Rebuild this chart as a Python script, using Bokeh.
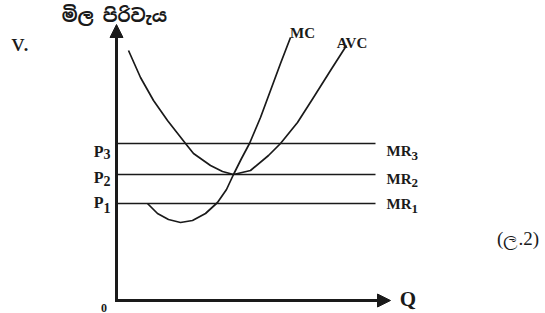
from bokeh.plotting import figure
from bokeh.models import Range1d, Arrow, NormalHead
from bokeh.core.properties import value
from bokeh.embed import file_html
from bokeh.resources import INLINE

# ---- data ----
price_names = ["P", "P", "P"]
price_subs = ["1", "2", "3"]
price_levels = [9.7, 12.6, 15.7]
mr_names = ["MR", "MR", "MR"]
mr_subs = ["1", "2", "3"]
mr_end_q = 25.9

mc_q = [3.1, 4.1, 5.2, 6.4, 7.6, 8.9, 10.1, 11.0, 11.7, 12.5, 13.3, 14.4, 15.4, 16.4, 17.4]
mc_p = [9.7, 8.7, 8.1, 7.8, 8.0, 8.7, 9.8, 11.1, 12.6, 14.2, 15.7, 18.3, 21.0, 23.7, 26.3]

avc_q = [1.2, 2.4, 3.7, 5.1, 6.9, 7.7, 9.4, 10.6, 11.7, 13.4, 15.2, 16.4, 18.1, 19.7, 21.4, 23.0]
avc_p = [25.0, 22.3, 20.0, 18.0, 15.7, 14.7, 13.5, 12.9, 12.6, 13.0, 14.5, 15.7, 17.8, 20.3, 23.0, 25.5]

y_axis_top = 27.6
x_axis_end = 27.4

title_text = "මිල පිරිවැය"
part_text = "v."
mark_text = "(ල.2)"
x_label = "Q"
origin_label = "0"
curve_names = ["MC", "AVC"]

W, H = 545, 313
p = figure(width=W, height=H, output_backend="svg", toolbar_location=None,
           x_range=Range1d(-11.6, 42.9), y_range=Range1d(-1.3, 30.0),
           min_border=0)
p.axis.visible = False
p.grid.visible = False
p.outline_line_color = None
p.background_fill_color = "white"
p.border_fill_color = "white"

serif = value("Liberation Serif")
col = "#1a1a1a"

# MR lines
for lvl in price_levels:
    p.line([0, mr_end_q], [lvl, lvl], line_color=col, line_width=1.7)

# curves
p.line(mc_q, mc_p, line_color=col, line_width=1.7, line_join="round")
p.line(avc_q, avc_p, line_color=col, line_width=1.7, line_join="round")

# axes with arrows
p.add_layout(Arrow(x_start=0, y_start=-0.15, x_end=0, y_end=y_axis_top,
                   line_width=3, line_color=col,
                   end=NormalHead(size=13, fill_color=col, line_color=col, line_width=1)))
p.add_layout(Arrow(x_start=-0.15, y_start=0, x_end=x_axis_end, y_end=0,
                   line_width=3, line_color=col,
                   end=NormalHead(size=13, fill_color=col, line_color=col, line_width=1)))

# price labels
p.text(x=[-1.3] * 3, y=price_levels, text=price_names, text_align="right",
       text_baseline="alphabetic", text_font=serif, text_font_style="bold",
       text_font_size="16px", text_color=col, y_offset=[-1, 3, 8])
p.text(x=[-1.3] * 3, y=price_levels, text=price_subs, text_align="left",
       text_baseline="alphabetic", text_font=serif, text_font_style="bold",
       text_font_size="14px", text_color=col, y_offset=[4, 6, 10])

# MR labels
p.text(x=[mr_end_q + 1.1] * 3, y=price_levels, text=mr_names, text_align="left",
       text_baseline="alphabetic", text_font=serif, text_font_style="bold",
       text_font_size="15px", text_color=col, y_offset=[0, 4, 7])
p.text(x=[mr_end_q + 3.6] * 3, y=price_levels, text=mr_subs, text_align="left",
       text_baseline="alphabetic", text_font=serif, text_font_style="bold",
       text_font_size="13px", text_color=col, y_offset=[5, 8, 12])

# curve labels
p.text(x=[18.6, 23.55], y=[26.8, 25.8], text=curve_names, text_align="center",
       text_baseline="alphabetic", text_font=serif, text_font_style="bold",
       text_font_size="15px", text_color=col)

# other texts
p.text(x=[-0.2], y=[28.5], text=[title_text], text_align="center", text_baseline="middle",
       text_font=value("Noto Sans Sinhala"), text_font_style="bold", text_font_size="18px",
       text_color=col)
p.text(x=[-10.5], y=[25.8], text=[part_text], text_align="left", text_baseline="alphabetic",
       text_font=serif, text_font_size="26px", text_color=col)
p.text(x=[40.15], y=[6.2], text=[mark_text], text_align="center", text_baseline="alphabetic",
       text_font=serif, text_font_size="19px", text_color=col)
p.text(x=[29.15], y=[0.2], text=[x_label], text_align="center", text_baseline="middle",
       text_font=serif, text_font_style="bold", text_font_size="21px", text_color=col)
p.text(x=[-1.25], y=[-0.7], text=[origin_label], text_align="center", text_baseline="alphabetic",
       text_font=serif, text_font_style="bold", text_font_size="12px", text_color=col)

open("out.html", "w").write(file_html(p, INLINE))
